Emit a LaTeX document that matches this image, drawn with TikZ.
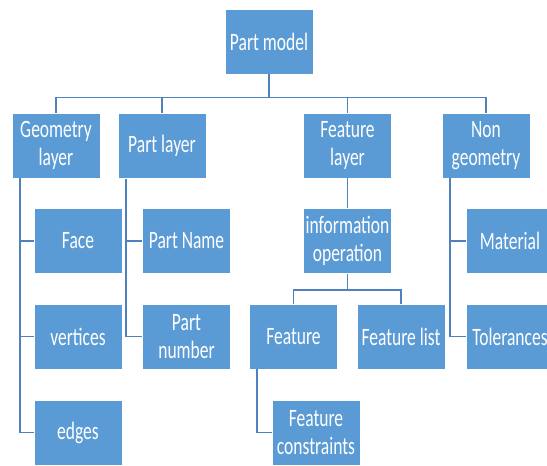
\documentclass[tikz,border=0pt]{standalone}
\usepackage{fontspec}
\setmainfont[FakeStretch=0.7]{Carlito}
\definecolor{boxblue}{HTML}{5B9BD5}
\definecolor{lineblue}{HTML}{4F81BD}

\begin{document}
\begin{tikzpicture}[x=1pt,y=-1pt,
	box/.style={fill=boxblue,draw=white,line width=0.6pt,text=white,align=center,
		minimum width=88pt,minimum height=65pt,inner sep=0pt,
		font=\fontsize{25}{28}\selectfont},
	link/.style={draw=lineblue,line width=1.6pt}]
	\clip (0,0) rectangle (547,466);
	% top and second row
	\node (1) [box] at (269,41.5) {Part model};
	\node (2) [box] at (56,145.5) {Geometry\\layer};
	\node (3) [box] at (162,146) {Part layer};
	\node (4) [box] at (347.5,145.5) {Feature\\layer};
	\node (5) [box] at (486,145.5) {Non\\geometry};
	% children
	\node (6) [box] at (78,241) {Face};
	\node (7) [box] at (78,336.5) {vertices};
	\node (8) [box] at (78,432.5) {edges};
	\node (9) [box] at (186.5,241) {Part Name};
	\node (10) [box] at (186.5,336.5) {Part\\number};
	\node (11) [box] at (347.5,241) {information\\operation};
	\node (12) [box] at (293.5,336.5) {Feature};
	\node (13) [box] at (401,336.5) {Feature list};
	\node (14) [box] at (316,432.5) {Feature\\constraints};
	\node (15) [box] at (510,241) {Material};
	\node (16) [box] at (510,336.5) {Tolerances};
	% connectors
	\foreach \n in {2,3,4,5}
		\path[link] (1.south) -- ++(0,23) -| (\n.north);
	\foreach \n in {6,7,8}
		\path[link] ([xshift=8.5pt]2.south west) |- (\n.west);
	\foreach \n in {9,10}
		\path[link] ([xshift=8.5pt]3.south west) |- (\n.west);
	\foreach \n in {15,16}
		\path[link] ([xshift=8.5pt]5.south west) |- (\n.west);
	\path[link] (4) -- (11);
	\foreach \n in {12,13}
		\path[link] (11.south) -- ++(0,16) -| (\n.north);
	\path[link] ([xshift=7.5pt]12.south west) |- (14.west);
\end{tikzpicture}
\end{document}
